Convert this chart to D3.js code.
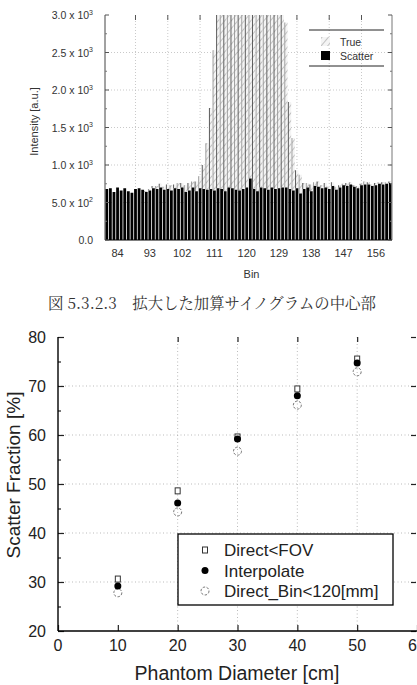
<!DOCTYPE html>
<html>
<head>
<meta charset="utf-8">
<script src="https://d3js.org/d3.v7.min.js"></script>
<style>
  body { margin: 0; background: #fff; }
  svg { display: block; }
</style>
</head>
<body>
<svg id="fig" width="417" height="685"></svg>
<script>
// ---- top chart data (bins 81..160) ----
const bins = d3.range(81, 161);
const scatterVals = [
  680,690,640,700,660,690,650,630,680,690,
  670,640,660,690,680,700,670,680,660,690,
  680,700,640,660,700,650,690,680,670,680,
  660,690,680,650,700,690,670,660,680,700,
  820,680,650,700,690,670,700,680,690,700,
  700,680,660,690,620,680,700,650,720,710,
  690,700,680,720,670,700,730,720,740,710,
  690,730,740,740,720,730,750,740,750,760
];
const trueVals = [
  0,0,0,0,0,0,0,0,0,0,
  0,10,20,30,40,50,40,60,70,50,
  80,60,90,100,80,130,160,320,620,1080,
  1870,3500,3500,3500,3500,3500,3500,3500,3500,3500,
  3500,3500,3500,3500,3500,3500,3500,3500,3500,3500,
  2200,1160,700,240,250,80,60,90,50,70,
  40,60,30,50,40,30,20,40,30,20,
  30,20,40,30,20,30,20,30,20,20
];
const binTicks = [84, 93, 102, 111, 120, 129, 138, 147, 156];
const binGrid = [89, 98, 107, 116, 125, 134, 143, 152];
const intensityTicks = [0, 500, 1000, 1500, 2000, 2500, 3000];
const intensityLabels = [["0.0", ""], ["5.0 x 10", "2"], ["1.0 x 10", "3"], ["1.5 x 10", "3"],
  ["2.0 x 10", "3"], ["2.5 x 10", "3"], ["3.0 x 10", "3"]];

// ---- bottom chart data ----
const diameters = [10, 20, 30, 40, 50];
const directFov = [30.6, 48.6, 59.6, 69.4, 75.5];
const interpolate = [29.2, 46.1, 59.2, 68.0, 74.7];
const directBin = [27.8, 44.3, 56.7, 66.1, 72.9];
const sfTicks = [20, 30, 40, 50, 60, 70, 80];
const diaTicks = [0, 10, 20, 30, 40, 50, 60];

const svg = d3.select("#fig");
svg.append("rect").attr("width", 417).attr("height", 685).attr("fill", "#fff");

const defs = svg.append("defs");
const pat = defs.append("pattern")
  .attr("id", "hatch")
  .attr("patternUnits", "userSpaceOnUse")
  .attr("width", 5).attr("height", 5)
  .attr("patternTransform", "rotate(40)");
pat.append("rect").attr("width", 5).attr("height", 5).attr("fill", "#f4f4f4");
pat.append("line").attr("x1", 0).attr("y1", 0).attr("x2", 0).attr("y2", 5)
  .attr("stroke", "#999").attr("stroke-width", 1.1);

// ================= top chart =================
const tp = { left: 105, right: 392, top: 15, bottom: 240 };
const xBin = d3.scaleLinear().domain([80.5, 160.5]).range([tp.left, tp.right]);
const yInt = d3.scaleLinear().domain([0, 3000]).range([tp.bottom, tp.top]).clamp(true);
const topG = svg.append("g");
const smallFont = "Liberation Sans, Arial, sans-serif";

// grid
topG.selectAll(".gx").data(binGrid).enter().append("line")
  .attr("x1", d => xBin(d)).attr("x2", d => xBin(d))
  .attr("y1", tp.top).attr("y2", tp.bottom)
  .attr("stroke", "#bbb").attr("stroke-width", 0.8).attr("stroke-dasharray", "1,2");
topG.selectAll(".gy").data(intensityTicks.slice(1, 6)).enter().append("line")
  .attr("x1", tp.left).attr("x2", tp.right)
  .attr("y1", d => yInt(d)).attr("y2", d => yInt(d))
  .attr("stroke", "#bbb").attr("stroke-width", 0.8).attr("stroke-dasharray", "1,2");
topG.selectAll(".gtop").data(binGrid).enter().append("line")
  .attr("x1", d => xBin(d)).attr("x2", d => xBin(d))
  .attr("y1", tp.top).attr("y2", tp.top + 5)
  .attr("stroke", "#555").attr("stroke-width", 1);

const bw = (xBin(82) - xBin(81)) * 0.78;
const barData = bins.map((bin, i) => ({ bin: bin, s: scatterVals[i], t: trueVals[i] }));

topG.selectAll(".tb").data(barData.filter(d => d.t > 0)).enter().append("rect")
  .attr("x", d => xBin(d.bin) - bw / 2)
  .attr("width", bw)
  .attr("y", d => yInt(d.s + d.t))
  .attr("height", d => yInt(d.s) - yInt(d.s + d.t))
  .attr("fill", "url(#hatch)");
// dark left edges of the true bars
topG.selectAll(".te").data(barData.filter(d => d.t > 0)).enter().append("line")
  .attr("x1", d => xBin(d.bin) - bw / 2).attr("x2", d => xBin(d.bin) - bw / 2)
  .attr("y1", d => yInt(d.s + d.t)).attr("y2", d => yInt(d.s))
  .attr("stroke", (d, i) => i % 2 ? "#888" : "#333").attr("stroke-width", 0.8);

topG.selectAll(".sb").data(barData).enter().append("rect")
  .attr("x", d => xBin(d.bin) - bw / 2)
  .attr("width", bw)
  .attr("y", d => yInt(d.s))
  .attr("height", d => tp.bottom - yInt(d.s))
  .attr("fill", "#000");

// axes frame
topG.append("line").attr("x1", tp.left).attr("x2", tp.left).attr("y1", tp.top).attr("y2", tp.bottom)
  .attr("stroke", "#444").attr("stroke-width", 1);
topG.append("line").attr("x1", tp.right).attr("x2", tp.right).attr("y1", tp.top).attr("y2", tp.bottom)
  .attr("stroke", "#777").attr("stroke-width", 1);
topG.append("line").attr("x1", tp.left).attr("x2", tp.right).attr("y1", tp.bottom).attr("y2", tp.bottom)
  .attr("stroke", "#000").attr("stroke-width", 1);

const minorInt = d3.range(250, 3000, 500);
[tp.left, tp.right].forEach((x0, k) => {
  const dir = k === 0 ? 1 : -1;
  topG.selectAll(null).data(intensityTicks).enter().append("line")
    .attr("x1", x0).attr("x2", x0 + dir * 4)
    .attr("y1", d => yInt(d)).attr("y2", d => yInt(d))
    .attr("stroke", "#555");
  topG.selectAll(null).data(minorInt).enter().append("line")
    .attr("x1", x0).attr("x2", x0 + dir * 2)
    .attr("y1", d => yInt(d)).attr("y2", d => yInt(d))
    .attr("stroke", "#777");
});

// y labels
const yl = topG.selectAll(".yl").data(intensityTicks).enter().append("text")
  .attr("x", 93).attr("y", d => yInt(d) + 4)
  .attr("text-anchor", "end")
  .attr("font-family", smallFont).attr("font-size", 10.5).attr("fill", "#333");
yl.append("tspan").text((d, i) => intensityLabels[i][0]);
yl.append("tspan").attr("dy", -4.5).attr("font-size", 7).text((d, i) => intensityLabels[i][1]);

topG.append("text")
  .attr("transform", `translate(38,${(tp.top + tp.bottom) / 2 - 6}) rotate(-90)`)
  .attr("text-anchor", "middle")
  .attr("font-family", smallFont).attr("font-size", 11).attr("fill", "#333")
  .text("Intensity [a.u.]");

// x labels
topG.selectAll(".xl").data(binTicks).enter().append("text")
  .attr("x", d => xBin(d)).attr("y", 257)
  .attr("text-anchor", "middle")
  .attr("font-family", smallFont).attr("font-size", 11).attr("fill", "#333")
  .text(d => d);
topG.append("text").attr("x", (tp.left + tp.right) / 2 + 3).attr("y", 278)
  .attr("text-anchor", "middle")
  .attr("font-family", smallFont).attr("font-size", 11).attr("fill", "#333")
  .text("Bin");

// top legend
const tl = topG.append("g");
tl.append("line").attr("x1", 309).attr("x2", 384).attr("y1", 30).attr("y2", 30).attr("stroke", "#222");
tl.append("line").attr("x1", 309).attr("x2", 384).attr("y1", 66).attr("y2", 66).attr("stroke", "#222");
tl.append("rect").attr("x", 321).attr("y", 37).attr("width", 9).attr("height", 9)
  .attr("fill", "url(#hatch)");
tl.append("rect").attr("x", 321).attr("y", 51).attr("width", 9).attr("height", 9).attr("fill", "#000");
tl.append("text").attr("x", 340).attr("y", 46).text("True")
  .attr("font-family", smallFont).attr("font-size", 10.5).attr("fill", "#333");
tl.append("text").attr("x", 340).attr("y", 60).text("Scatter")
  .attr("font-family", smallFont).attr("font-size", 10.5).attr("fill", "#333");

// caption
svg.append("text").attr("x", 212).attr("y", 309)
  .attr("text-anchor", "middle")
  .attr("font-family", "Noto Serif CJK JP, Noto Sans CJK JP, serif")
  .attr("font-size", 15.4).attr("fill", "#333")
  .text("図 5.3.2.3　拡大した加算サイノグラムの中心部");

// ================= bottom chart =================
const bm = { left: 58, right: 417, top: 337, bottom: 631 };
const xDia = d3.scaleLinear().domain([0, 60]).range([bm.left, bm.right]);
const ySf = d3.scaleLinear().domain([20, 80]).range([bm.bottom, bm.top]);
const bot = svg.append("g");
const bigFont = "Liberation Sans, Arial, sans-serif";

bot.selectAll(".bgx").data([20, 30, 40, 50]).enter().append("line")
  .attr("x1", d => xDia(d)).attr("x2", d => xDia(d))
  .attr("y1", bm.top).attr("y2", bm.bottom)
  .attr("stroke", "#aaa").attr("stroke-width", 0.8).attr("stroke-dasharray", "1,2.5");
bot.selectAll(".bgy").data([30, 40, 50, 60, 70]).enter().append("line")
  .attr("x1", bm.left).attr("x2", bm.right)
  .attr("y1", d => ySf(d)).attr("y2", d => ySf(d))
  .attr("stroke", "#aaa").attr("stroke-width", 0.8).attr("stroke-dasharray", "1,2.5");

// ticks
const yAxisB = d3.axisLeft(ySf).tickValues(sfTicks).tickSize(-6).tickFormat("");
const yMinorB = d3.axisLeft(ySf).tickValues(d3.range(25, 80, 10)).tickSize(-3).tickFormat("");
bot.append("g").attr("transform", `translate(${bm.left},0)`).call(yAxisB);
bot.append("g").attr("transform", `translate(${bm.left},0)`).call(yMinorB);
bot.append("g").attr("transform", `translate(${bm.right - 1},0)`)
  .call(d3.axisRight(ySf).tickValues(sfTicks).tickSize(-5).tickFormat(""));
bot.append("g").attr("transform", `translate(0,${bm.top})`)
  .call(d3.axisTop(xDia).tickValues([20, 30, 40, 50]).tickSize(-5).tickFormat(""));
bot.append("g").attr("transform", `translate(0,${bm.bottom})`)
  .call(d3.axisBottom(xDia).tickValues(diaTicks).tickSize(-6).tickFormat(""));
bot.selectAll(".domain").remove();
bot.selectAll(".tick line").attr("stroke", "#222").attr("stroke-width", 1.2);

bot.append("line").attr("x1", bm.left).attr("x2", bm.left).attr("y1", bm.top).attr("y2", bm.bottom)
  .attr("stroke", "#000").attr("stroke-width", 1.4);
bot.append("line").attr("x1", bm.left).attr("x2", bm.right).attr("y1", bm.bottom).attr("y2", bm.bottom)
  .attr("stroke", "#000").attr("stroke-width", 1.4);

bot.selectAll(".byl").data(sfTicks).enter().append("text")
  .attr("x", 46).attr("y", d => ySf(d) + 6)
  .attr("text-anchor", "end")
  .attr("font-family", bigFont).attr("font-size", 16).attr("fill", "#222")
  .text(d => d);
bot.selectAll(".bxl").data(diaTicks).enter().append("text")
  .attr("x", d => xDia(d)).attr("y", 651)
  .attr("text-anchor", "middle")
  .attr("font-family", bigFont).attr("font-size", 16).attr("fill", "#222")
  .text(d => d);

bot.append("text").attr("x", 237).attr("y", 680)
  .attr("text-anchor", "middle")
  .attr("font-family", bigFont).attr("font-size", 19.5).attr("fill", "#222")
  .text("Phantom Diameter [cm]");
bot.append("text")
  .attr("transform", `translate(20,475) rotate(-90)`)
  .attr("text-anchor", "middle")
  .attr("font-family", bigFont).attr("font-size", 19).attr("fill", "#222")
  .text("Scatter Fraction [%]");

// markers
function drawSquare(g, cx, cy) {
  g.append("rect").attr("x", cx - 2.5).attr("y", cy - 3).attr("width", 5).attr("height", 6)
    .attr("fill", "#fff").attr("stroke", "#333").attr("stroke-width", 1);
}
function drawDot(g, cx, cy) {
  g.append("circle").attr("cx", cx).attr("cy", cy).attr("r", 3.5).attr("fill", "#000");
}
function drawRing(g, cx, cy) {
  g.append("circle").attr("cx", cx).attr("cy", cy).attr("r", 4)
    .attr("fill", "none").attr("stroke", "#777").attr("stroke-width", 1)
    .attr("stroke-dasharray", "2.5,1.5");
}

const pts = bot.append("g");
diameters.forEach((d, i) => drawRing(pts, xDia(d), ySf(directBin[i])));
diameters.forEach((d, i) => drawSquare(pts, xDia(d), ySf(directFov[i])));
diameters.forEach((d, i) => drawDot(pts, xDia(d), ySf(interpolate[i])));

// bottom legend
const lg = bot.append("g");
lg.append("rect").attr("x", 178).attr("y", 534).attr("width", 215).attr("height", 71)
  .attr("fill", "#fff").attr("stroke", "#000").attr("stroke-width", 1.3);
const legendItems = [
  { label: "Direct<FOV", draw: drawSquare },
  { label: "Interpolate", draw: drawDot },
  { label: "Direct_Bin<120[mm]", draw: drawRing }
];
legendItems.forEach((it, i) => {
  const cy = 550 + i * 20.5;
  it.draw(lg, 205, cy);
  lg.append("text").attr("x", 224).attr("y", cy + 6)
    .attr("font-family", bigFont).attr("font-size", 17).attr("fill", "#222")
    .text(it.label);
});
</script>
</body>
</html>
